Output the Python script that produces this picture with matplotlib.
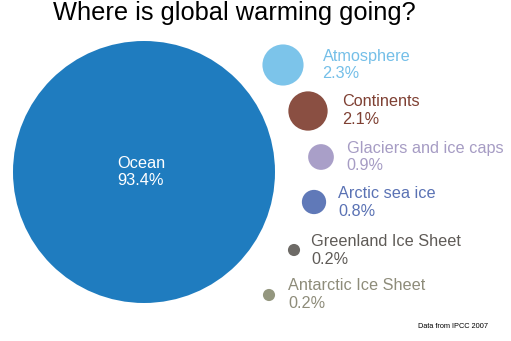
import matplotlib.pyplot as plt
from matplotlib.patches import Circle
import numpy as np

plt.rcParams['font.family'] = ['Liberation Sans', 'DejaVu Sans']

# share of warming absorbed, percent
names = ['Ocean', 'Atmosphere', 'Continents', 'Glaciers and ice caps',
         'Arctic sea ice', 'Greenland Ice Sheet', 'Antarctic Ice Sheet']
shares = [93.4, 2.3, 2.1, 0.9, 0.8, 0.2, 0.2]

colors = ['#1f7cbf', '#7cc4ea', '#8a4f42', '#a99fc8',
          '#6079b8', '#6d6a66', '#94977f']
text_colors = ['white', '#74bfe8', '#7f4033', '#a69cc4',
               '#5a72b4', '#5f5b57', '#8e8c7a']

# bubble centres in pixel space
cx = [144, 283, 308, 321, 314, 294, 269]
cy = [172, 65, 111, 157, 202, 250, 295]
gap = [0, 19, 14, 13, 12, 11, 13]

fig = plt.figure(figsize=(5.11, 3.41), dpi=100)
ax = fig.add_axes([0, 0, 1, 1])
ax.set_xlim(0, 511)
ax.set_ylim(341, 0)
ax.set_aspect('equal')
ax.axis('off')

scale = 131 / np.sqrt(shares[0])
for i in range(len(names)):
    r = scale * np.sqrt(shares[i])
    ax.add_patch(Circle((cx[i], cy[i]), r, color=colors[i], lw=0))
    label = '%s\n%.1f%%' % (names[i], shares[i])
    if i == 0:
        ax.text(117, cy[i], label, color=text_colors[i], fontsize=11.8,
                ha='left', va='center', linespacing=1.2)
    else:
        ax.text(cx[i] + r + gap[i], cy[i], label, color=text_colors[i],
                fontsize=11.7, ha='left', va='center', linespacing=1.25)

ax.text(53, 13, 'Where is global warming going?', fontsize=18.3,
        ha='left', va='center', color='black')
ax.text(418, 327, 'Data from IPCC 2007', fontsize=5.3, ha='left', va='center',
        color='black')

fig.savefig('out.png', dpi=100)
